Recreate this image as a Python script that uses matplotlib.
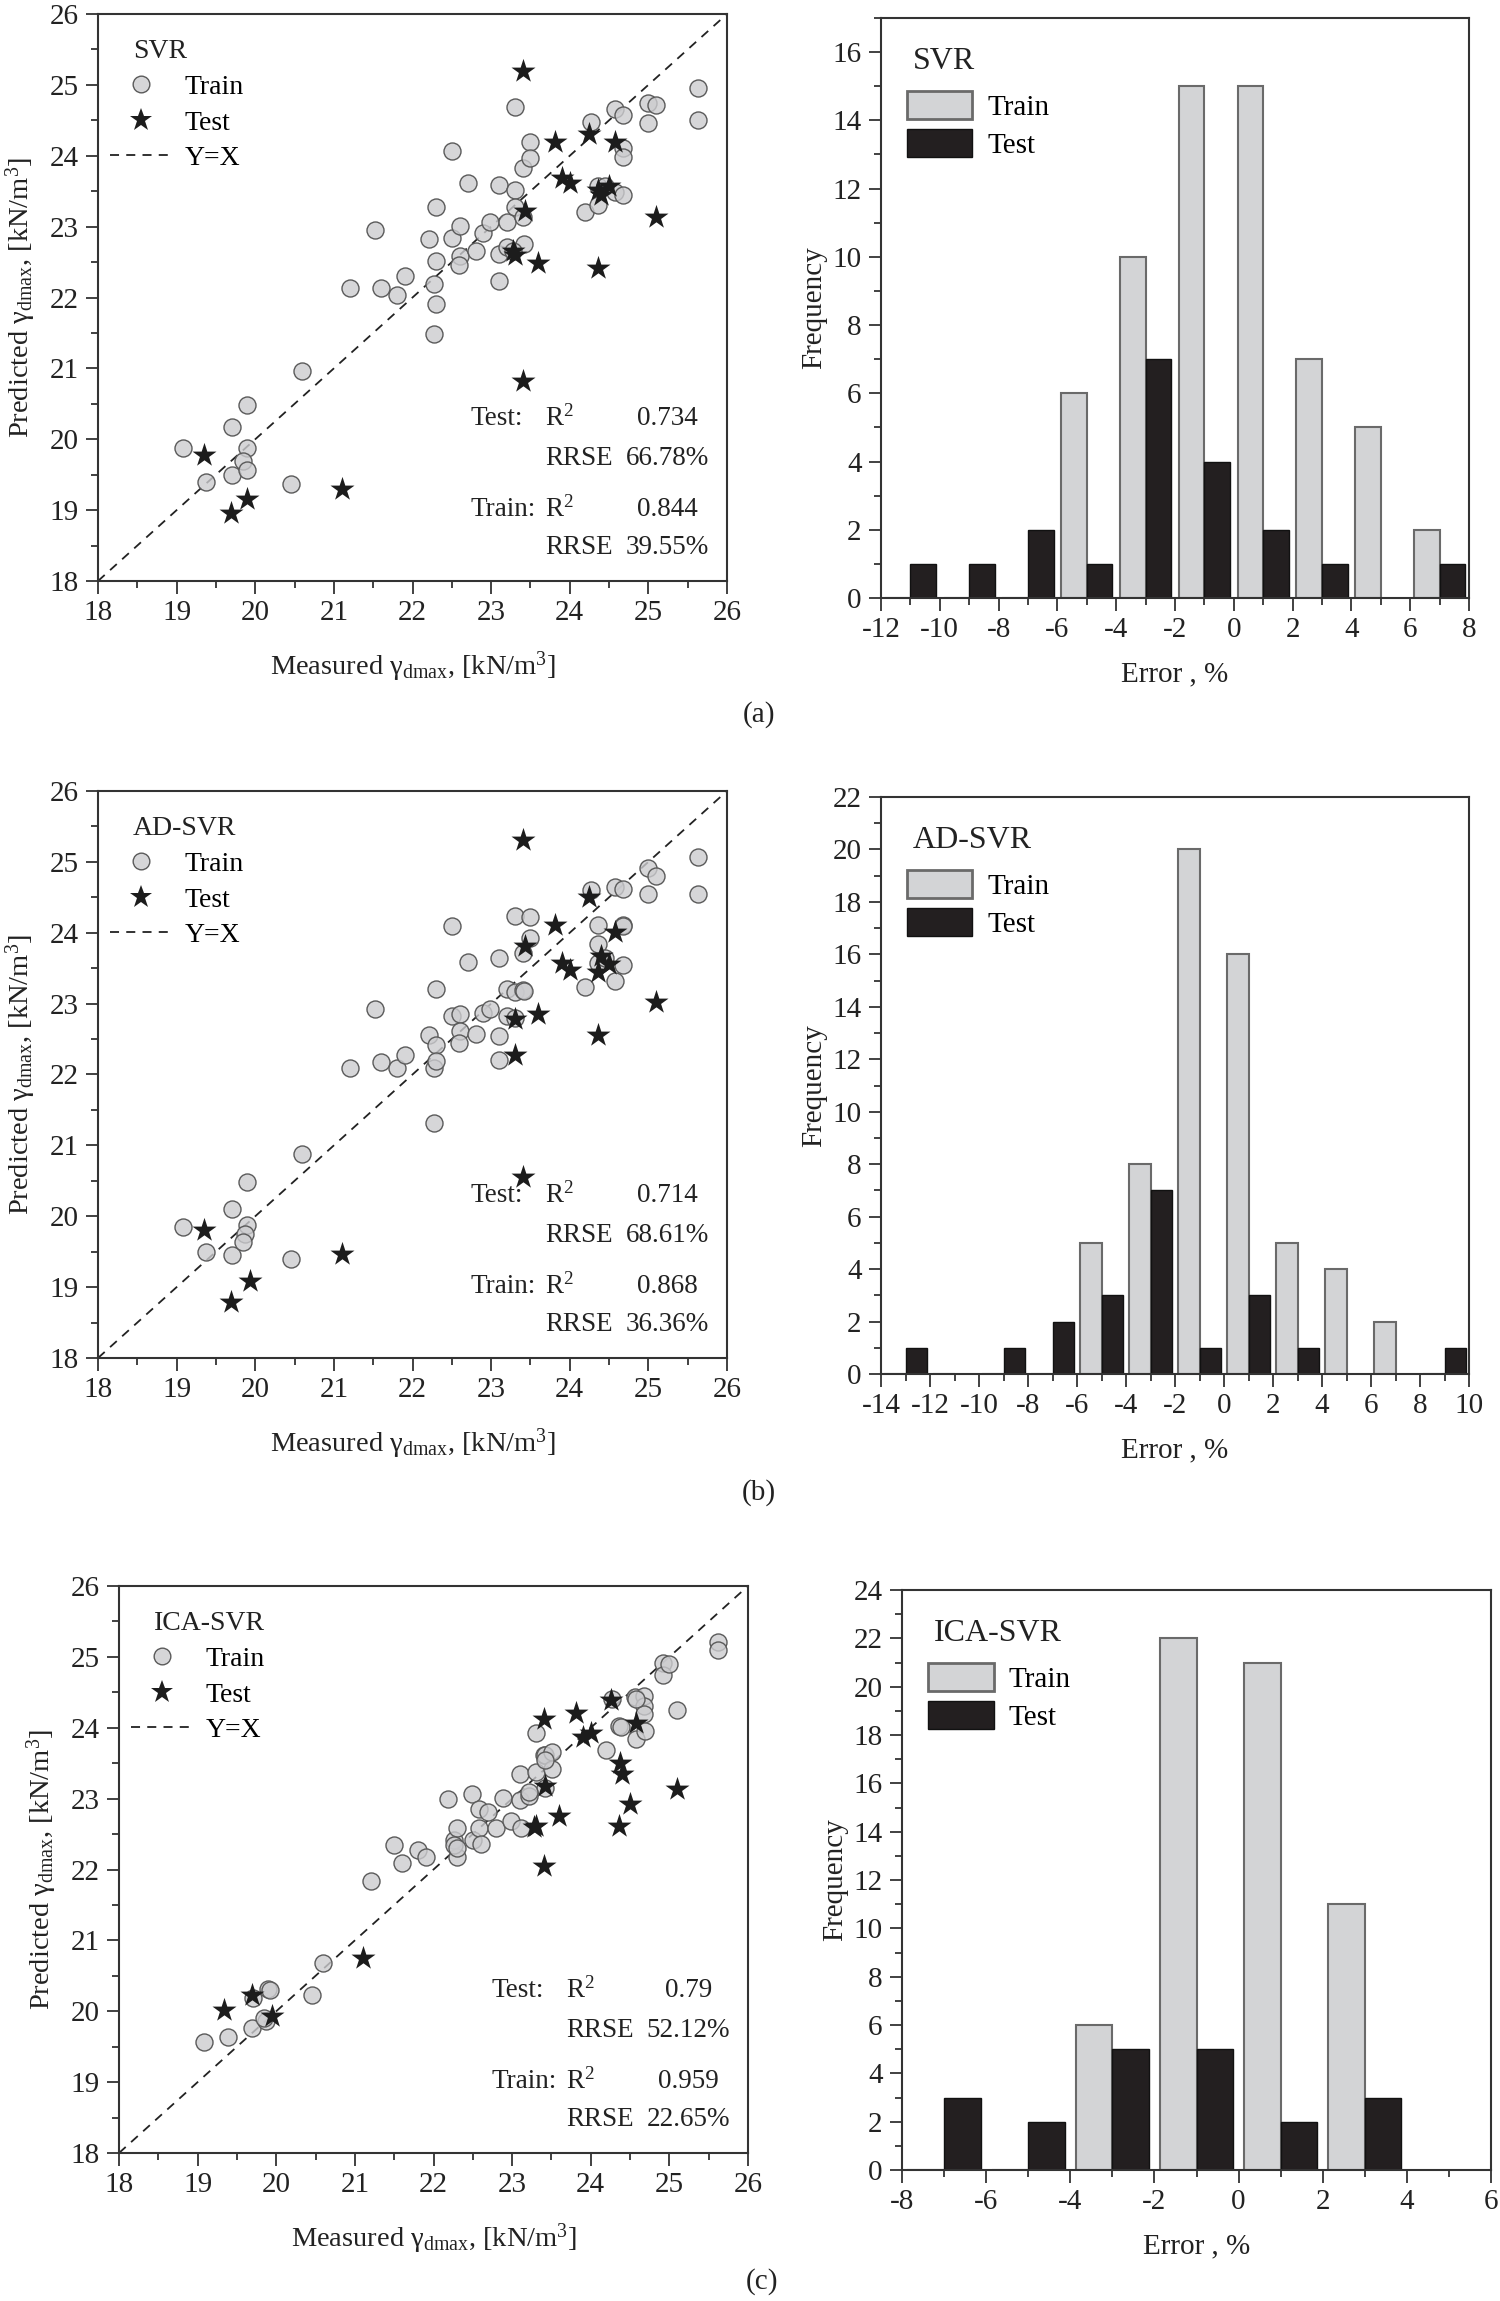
import matplotlib
matplotlib.use("Agg")
import matplotlib.pyplot as plt
from matplotlib.lines import Line2D
from matplotlib.patches import Patch
from matplotlib.ticker import MultipleLocator
import numpy as np

plt.rcParams['font.family'] = ['Liberation Serif', 'DejaVu Serif']
plt.rcParams['mathtext.fontset'] = 'custom'
plt.rcParams['mathtext.rm'] = 'Liberation Serif'
plt.rcParams['mathtext.it'] = 'Liberation Serif'
plt.rcParams['mathtext.bf'] = 'Liberation Serif:bold'
plt.rcParams['axes.unicode_minus'] = False

# ---------------- data ----------------
models = ['SVR', 'AD-SVR', 'ICA-SVR']

svr_train_meas = [19.08, 19.37, 19.70, 19.70, 19.90, 19.90, 19.84, 19.89, 20.45, 20.60,
                  21.20, 21.52, 21.60, 21.80, 21.90, 22.21, 22.27, 22.30, 22.30, 22.30,
                  22.27, 22.50, 22.50, 22.60, 22.60, 22.59, 22.71, 22.81, 22.90, 22.99,
                  23.10, 23.10, 23.10, 23.20, 23.20, 23.30, 23.30, 23.30, 23.40, 23.40,
                  23.42, 23.50, 23.50, 24.19, 24.27, 24.36, 24.36, 24.57, 24.57, 24.68,
                  24.68, 24.68, 24.68, 25.00, 25.00, 25.10, 25.63, 25.63, 24.45, 23.28]
svr_train_pred = [19.87, 19.39, 20.17, 19.49, 20.49, 19.88, 19.69, 19.57, 19.37, 20.96,
                  22.13, 22.95, 22.14, 22.03, 22.31, 22.83, 22.19, 23.28, 22.52, 21.91,
                  21.48, 24.06, 22.84, 23.01, 22.58, 22.46, 23.61, 22.65, 22.91, 23.06,
                  23.59, 22.61, 22.23, 23.06, 22.71, 24.69, 23.51, 23.28, 23.83, 23.13,
                  22.76, 24.19, 23.97, 23.20, 24.47, 23.57, 23.30, 24.66, 23.49, 24.58,
                  24.11, 23.98, 23.45, 24.75, 24.46, 24.72, 24.95, 24.51, 23.58, 22.66]
svr_test_meas = [19.35, 19.69, 19.90, 21.10, 23.40, 23.40, 23.43, 23.30, 23.60, 23.81,
                 23.90, 24.00, 24.25, 24.36, 24.36, 24.40, 24.50, 24.57, 25.10, 23.28]
svr_test_pred = [19.78, 18.96, 19.15, 19.30, 25.20, 20.82, 23.22, 22.60, 22.49, 24.19,
                 23.69, 23.61, 24.31, 22.42, 23.51, 23.45, 23.57, 24.19, 23.13, 22.65]

ad_train_meas = [19.08, 19.37, 19.70, 19.70, 19.90, 19.90, 19.87, 19.84, 20.45, 20.60,
                 21.20, 21.52, 21.60, 21.80, 21.90, 22.21, 22.27, 22.30, 22.30, 22.30,
                 22.27, 22.50, 22.50, 22.60, 22.60, 22.59, 22.71, 22.81, 22.90, 22.99,
                 23.10, 23.10, 23.10, 23.20, 23.20, 23.30, 23.30, 23.30, 23.40, 23.40,
                 23.42, 23.50, 23.50, 24.19, 24.27, 24.36, 24.36, 24.36, 24.57, 24.57,
                 24.68, 24.68, 24.68, 25.00, 25.00, 25.10, 25.63, 25.63, 24.68, 24.45]
ad_train_pred = [19.85, 19.50, 20.10, 19.45, 20.49, 19.88, 19.75, 19.64, 19.40, 20.88,
                 22.09, 22.92, 22.17, 22.09, 22.28, 22.56, 22.09, 23.21, 22.41, 22.19,
                 21.32, 24.09, 22.82, 22.85, 22.61, 22.44, 23.59, 22.57, 22.87, 22.92,
                 23.65, 22.55, 22.20, 23.21, 22.83, 24.24, 23.17, 22.80, 23.72, 23.19,
                 23.18, 24.22, 23.92, 23.23, 24.60, 23.84, 23.57, 24.11, 24.64, 23.32,
                 24.62, 24.11, 23.55, 24.92, 24.55, 24.80, 25.07, 24.55, 24.10, 23.65]
ad_test_meas = [19.35, 19.69, 19.93, 21.10, 23.40, 23.40, 23.43, 23.30, 23.30, 23.60,
                23.81, 23.90, 24.00, 24.25, 24.36, 24.36, 24.40, 24.50, 24.57, 25.10]
ad_test_pred = [19.80, 18.79, 19.09, 19.47, 25.31, 20.56, 23.81, 22.79, 22.27, 22.85,
                24.11, 23.58, 23.48, 24.50, 22.56, 23.44, 23.67, 23.56, 24.01, 23.02]

ica_train_meas = [19.08, 19.38, 19.69, 19.70, 19.90, 19.87, 19.84, 19.92, 20.45, 20.60,
                  21.20, 21.50, 21.60, 21.80, 21.90, 22.19, 22.26, 22.30, 22.30, 22.26,
                  22.49, 22.50, 22.58, 22.58, 22.61, 22.69, 22.79, 22.89, 22.99, 23.10,
                  23.10, 23.11, 23.22, 23.30, 23.30, 23.40, 23.42, 23.42, 23.51, 23.51,
                  24.20, 24.36, 24.38, 24.56, 24.57, 24.68, 24.68, 24.68, 24.69, 24.92,
                  24.92, 25.00, 25.10, 25.62, 25.62, 24.27, 23.22, 24.57, 22.30, 23.42]
ica_train_pred = [19.57, 19.64, 19.77, 20.18, 20.31, 19.86, 19.90, 20.30, 20.23, 20.68,
                  21.84, 22.34, 22.09, 22.28, 22.17, 22.99, 22.41, 22.59, 22.17, 22.34,
                  23.07, 22.41, 22.86, 22.59, 22.36, 22.81, 22.59, 23.01, 22.68, 22.98,
                  23.35, 22.59, 23.03, 23.93, 23.37, 23.62, 23.15, 23.61, 23.66, 23.42,
                  23.69, 24.03, 24.01, 24.43, 23.84, 24.45, 24.30, 24.20, 23.95, 24.91,
                  24.74, 24.90, 24.25, 25.21, 25.09, 24.40, 23.10, 24.40, 22.30, 23.55]
ica_test_meas = [19.34, 19.69, 19.95, 21.10, 23.40, 23.40, 23.42, 23.31, 23.60, 23.81,
                 23.90, 24.00, 24.26, 24.36, 24.37, 24.40, 24.50, 24.57, 25.10, 23.28]
ica_test_pred = [20.02, 20.23, 19.94, 20.75, 24.13, 22.05, 23.18, 22.62, 22.76, 24.21,
                 23.87, 23.93, 24.39, 22.61, 23.50, 23.35, 22.93, 24.06, 23.13, 22.60]

test_r2 = ['0.734', '0.714', '0.79']
test_rrse = ['66.78%', '68.61%', '52.12%']
train_r2 = ['0.844', '0.868', '0.959']
train_rrse = ['39.55%', '36.36%', '22.65%']

# error histograms: bin centres and counts
svr_bins = [-11, -9, -7, -5, -3, -1, 1, 3, 5, 7]
svr_hist_train = [0, 0, 0, 6, 10, 15, 15, 7, 5, 2]
svr_hist_test = [1, 1, 2, 1, 7, 4, 2, 1, 0, 1]

ad_bins = [-13, -11, -9, -7, -5, -3, -1, 1, 3, 5, 7, 9]
ad_hist_train = [0, 0, 0, 0, 5, 8, 20, 16, 5, 4, 2, 0]
ad_hist_test = [1, 0, 1, 2, 3, 7, 1, 3, 1, 0, 0, 1]

ica_bins = [-7, -5, -3, -1, 1, 3]
ica_hist_train = [0, 0, 6, 22, 21, 11]
ica_hist_test = [3, 2, 5, 5, 2, 3]

hist_xlim = [(-12, 8), (-14, 10), (-8, 6)]
hist_ylim = [17, 22, 24]
panel_tags = ['(a)', '(b)', '(c)']

# ---------------- layout ----------------
W, H = 1500, 2301
fig = plt.figure(figsize=(W / 100, H / 100), dpi=100)


def px_axes(x0, y0, x1, y1):
    return fig.add_axes([x0 / W, 1 - y1 / H, (x1 - x0) / W, (y1 - y0) / H])


scatter_boxes = [(98, 14, 727, 581), (98, 791, 727, 1358), (119, 1586, 748, 2153)]
hist_boxes = [(881, 18, 1469, 598), (881, 797, 1469, 1374), (902, 1590, 1491, 2170)]
tag_pos = [(759, 715), (759, 1493), (762, 2282)]

spine_c = '#333333'
train_fc = (0.80, 0.80, 0.81, 0.80)
train_ec = '#5a5a5a'
star_c = '#1c1c1c'
bar_train = '#d3d4d6'
bar_test = '#231f20'


def style_axes(ax):
    for s in ax.spines.values():
        s.set_linewidth(1.5)
        s.set_color(spine_c)
    ax.tick_params(which='both', direction='out', colors=spine_c, labelcolor='#222222',
                   labelsize=21, width=1.3)
    ax.tick_params(which='major', length=9, pad=5)
    ax.tick_params(which='minor', length=5)
    ax.tick_params(top=False, right=False)


scatter_data = [
    (svr_train_meas, svr_train_pred, svr_test_meas, svr_test_pred),
    (ad_train_meas, ad_train_pred, ad_test_meas, ad_test_pred),
    (ica_train_meas, ica_train_pred, ica_test_meas, ica_test_pred),
]
hist_data = [
    (svr_bins, svr_hist_train, svr_hist_test),
    (ad_bins, ad_hist_train, ad_hist_test),
    (ica_bins, ica_hist_train, ica_hist_test),
]

for i, name in enumerate(models):
    # ---- scatter: predicted vs measured ----
    ax = px_axes(*scatter_boxes[i])
    trx, tr_y, tex, tey = scatter_data[i]
    ax.plot([18, 26], [18, 26], ls=(0, (5, 4)), color='#222222', lw=1.3, zorder=1)
    ax.scatter(trx, tr_y, s=150, facecolor=train_fc, edgecolor=train_ec, linewidth=1.0, zorder=2)
    ax.scatter(tex, tey, s=330, marker='*', color=star_c, linewidth=0, zorder=3)
    ax.set_xlim(18, 26)
    ax.set_ylim(18, 26)
    ax.xaxis.set_major_locator(MultipleLocator(1))
    ax.xaxis.set_minor_locator(MultipleLocator(0.5))
    ax.yaxis.set_major_locator(MultipleLocator(1))
    ax.yaxis.set_minor_locator(MultipleLocator(0.5))
    style_axes(ax)
    ax.set_xlabel(r'Measured $\gamma_{\mathrm{dmax}}$, [kN/m$^{3}$]', fontsize=20.5, color='#222222')
    ax.set_ylabel(r'Predicted $\gamma_{\mathrm{dmax}}$, [kN/m$^{3}$]', fontsize=20.5, color='#222222')
    ax.xaxis.set_label_coords(0.5, -0.12)
    ax.yaxis.set_label_coords(-0.095, 0.5)

    ax.text(0.0555, 0.933, name, transform=ax.transAxes, fontsize=20, va='center', ha='left',
            color='#222222')
    handles = [
        Line2D([], [], ls='none', marker='o', ms=12, mfc=train_fc, mec=train_ec, mew=1.0),
        Line2D([], [], ls='none', marker='*', ms=17, mfc=star_c, mec=star_c, mew=0),
        Line2D([], [], ls=(0, (5, 4)), color='#222222', lw=1.3),
    ]
    ax.legend(handles, ['Train', 'Test', 'Y=X'], loc='upper left', bbox_to_anchor=(0.019, 0.893),
              frameon=False, fontsize=20, handlelength=2.2, handletextpad=0.5,
              labelspacing=0.36, borderpad=0, borderaxespad=0)

    rows = [(0.286, 'Test:', r'R$^2$', test_r2[i]),
            (0.2165, '', 'RRSE', test_rrse[i]),
            (0.126, 'Train:', r'R$^2$', train_r2[i]),
            (0.059, '', 'RRSE', train_rrse[i])]
    for yy, lab, met, val in rows:
        if lab:
            ax.text(0.593, yy, lab, transform=ax.transAxes, fontsize=19.5, va='center', color='#222222')
        ax.text(0.711, yy, met, transform=ax.transAxes, fontsize=19.5, va='center', color='#222222')
        ax.text(0.905, yy, val, transform=ax.transAxes, fontsize=19.5, va='center', ha='center',
                color='#222222')

    # ---- error histogram ----
    hx = px_axes(*hist_boxes[i])
    centres, h_tr, h_te = hist_data[i]
    centres = np.asarray(centres, dtype=float)
    w = 0.87
    hx.bar(centres - w, h_tr, width=w, align='edge', color=bar_train, edgecolor='#6a6a6a',
           linewidth=1.5, zorder=2)
    hx.bar(centres, h_te, width=w, align='edge', color=bar_test, edgecolor='#111111',
           linewidth=1.0, zorder=2)
    hx.set_xlim(*hist_xlim[i])
    hx.set_ylim(0, hist_ylim[i])
    hx.xaxis.set_major_locator(MultipleLocator(2))
    hx.xaxis.set_minor_locator(MultipleLocator(1))
    hx.yaxis.set_major_locator(MultipleLocator(2))
    hx.yaxis.set_minor_locator(MultipleLocator(1))
    style_axes(hx)
    hx.set_xlabel('Error , %', fontsize=21, color='#222222')
    hx.set_ylabel('Frequency', fontsize=21, color='#222222')
    hx.xaxis.set_label_coords(0.5, -0.11)
    hx.yaxis.set_label_coords(-0.092, 0.5)

    hx.text(0.054, 0.925, name, transform=hx.transAxes, fontsize=23, va='center', ha='left',
            color='#222222')
    phandles = [Patch(facecolor=bar_train, edgecolor='#6a6a6a', linewidth=2.0),
                Patch(facecolor=bar_test, edgecolor='#111111', linewidth=1.0)]
    hx.legend(phandles, ['Train', 'Test'], loc='upper left', bbox_to_anchor=(0.044, 0.874),
              frameon=False, fontsize=21, handlelength=2.25, handleheight=1.1,
              handletextpad=0.5, labelspacing=0.28, borderpad=0, borderaxespad=0)

    fig.text(tag_pos[i][0] / W, 1 - tag_pos[i][1] / H, panel_tags[i], fontsize=21,
             ha='center', va='center', color='#222222')

fig.savefig('out.png', dpi=100, facecolor='white')
